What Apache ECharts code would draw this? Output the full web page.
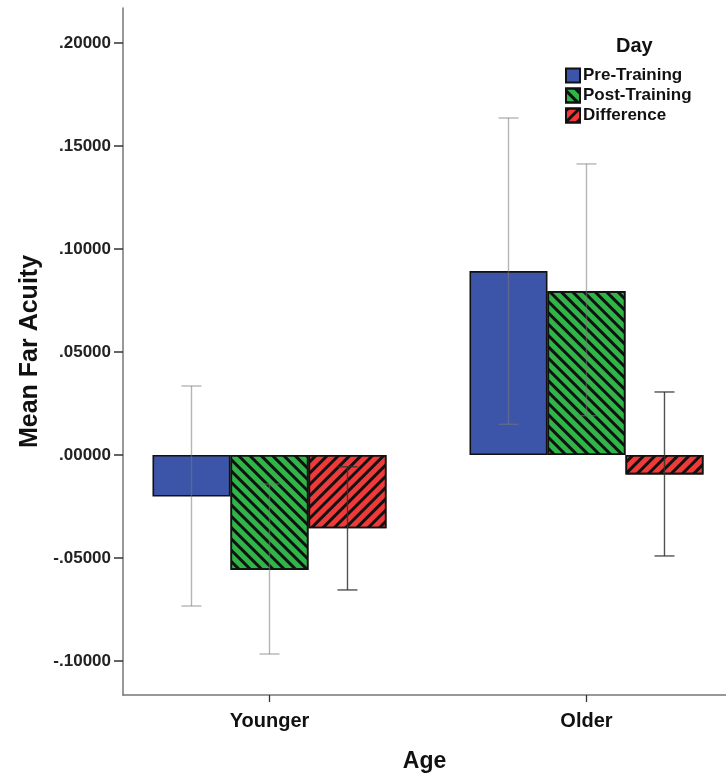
<!DOCTYPE html>
<html>
<head>
<meta charset="utf-8">
<script src="https://cdn.jsdelivr.net/npm/echarts@6/dist/echarts.min.js"></script>
<style>
html,body{margin:0;padding:0;background:#fff;}
#chart{width:726px;height:781px;}
</style>
</head>
<body>
<div id="chart"></div>
<script>
const categories = ['Younger', 'Older'];
const seriesNames = ['Pre-Training', 'Post-Training', 'Difference'];
const preTraining = [-0.0202, 0.0893];
const postTraining = [-0.0558, 0.0796];
const difference = [-0.0356, -0.0094];
const preErrLow = [-0.0733, 0.0149];
const preErrHigh = [0.0335, 0.1636];
const postErrLow = [-0.0966, 0.0191];
const postErrHigh = [-0.0141, 0.1413];
const diffErrLow = [-0.0655, -0.0490];
const diffErrHigh = [-0.0057, 0.0306];
const yTickValues = [-0.1, -0.05, 0, 0.05, 0.1, 0.15, 0.2];
const yTickLabels = ['-.10000', '-.05000', '.00000', '.05000', '.10000', '.15000', '.20000'];

const FONT = "'Liberation Sans', Arial, sans-serif";
const Y_MIN = -0.1165, Y_MAX = 0.217;
const X_MIN = -0.4621, X_MAX = 1.4401;
const BAR_W = 78;
const catIdx = categories.map((c, i) => i);

function tickLabel(v) {
  let best = 0, bd = Infinity;
  yTickValues.forEach((t, i) => { const d = Math.abs(t - v); if (d < bd) { bd = d; best = i; } });
  return yTickLabels[best];
}
function catLabel(v) {
  const i = Math.round(v);
  return categories[i] !== undefined ? categories[i] : '';
}
function pairs(vals) { return vals.map((v, i) => [catIdx[i], v]); }

function errSeries(name, lows, highs, idx, color) {
  return {
    type: 'custom', name: name + ' err', z: 5,
    data: catIdx.map(i => [i, lows[i], highs[i]]),
    renderItem: function (params, api) {
      const ci = api.value(0);
      const p1 = api.coord([ci, api.value(1)]);
      const p2 = api.coord([ci, api.value(2)]);
      const x = p1[0] + (idx - 1) * BAR_W;
      const cap = 10;
      const style = { stroke: color, lineWidth: 1.4, fill: null };
      return {
        type: 'group', children: [
          { type: 'line', shape: { x1: x, y1: p1[1], x2: x, y2: p2[1] }, style: style },
          { type: 'line', shape: { x1: x - cap, y1: p1[1], x2: x + cap, y2: p1[1] }, style: style },
          { type: 'line', shape: { x1: x - cap, y1: p2[1], x2: x + cap, y2: p2[1] }, style: style }
        ]
      };
    }
  };
}

const chart = echarts.init(document.getElementById('chart'), null, { renderer: 'canvas' });
const barBorder = { borderColor: '#111', borderWidth: 1.6 };
chart.setOption({
  animation: false,
  backgroundColor: '#fff',
  title: {
    text: 'Day', left: 611, top: 31,
    textStyle: { fontFamily: FONT, fontSize: 20, fontWeight: 'bold', color: '#111' }
  },
  legend: {
    data: seriesNames, orient: 'vertical', left: 565, top: 67, padding: 0,
    icon: 'rect', itemWidth: 14, itemHeight: 14, itemGap: 3,
    textStyle: { fontFamily: FONT, fontSize: 17, fontWeight: 'bold', color: '#111', padding: [0, 0, 0, -2] }
  },
  grid: { left: 123, right: 0, top: 8, bottom: 86 },
  xAxis: {
    type: 'value', min: X_MIN, max: X_MAX,
    axisLine: { show: true, onZero: false, lineStyle: { color: '#777', width: 1.5 } },
    axisTick: { show: true, customValues: catIdx, length: 7, lineStyle: { color: '#333', width: 1.3 } },
    axisLabel: { customValues: catIdx, formatter: catLabel, fontFamily: FONT, fontSize: 20, fontWeight: 'bold', color: '#111', margin: 16 },
    splitLine: { show: false },
    name: 'Age', nameLocation: 'middle', nameGap: 55,
    nameTextStyle: { fontFamily: FONT, fontSize: 23, fontWeight: 'bold', color: '#111' }
  },
  yAxis: {
    type: 'value', min: Y_MIN, max: Y_MAX,
    axisLine: { show: true, onZero: false, lineStyle: { color: '#777', width: 1.5 } },
    axisTick: { show: true, customValues: yTickValues, length: 9, lineStyle: { color: '#333', width: 1.5 } },
    axisLabel: { customValues: yTickValues, formatter: tickLabel, fontFamily: FONT, fontSize: 17, fontWeight: 'bold', color: '#222', margin: 12 },
    splitLine: { show: false },
    name: 'Mean Far Acuity', nameLocation: 'middle', nameRotate: 90, nameGap: 80,
    nameTextStyle: { fontFamily: FONT, fontSize: 25, fontWeight: 'bold', color: '#111' }
  },
  series: [
    {
      name: seriesNames[0], type: 'bar', data: pairs(preTraining),
      barWidth: BAR_W, barGap: '0%',
      itemStyle: Object.assign({ color: '#3d55a8' }, barBorder)
    },
    {
      name: seriesNames[1], type: 'bar', data: pairs(postTraining),
      barWidth: BAR_W, barGap: '0%',
      itemStyle: Object.assign({ color: '#2fb548', decal: { symbol: 'rect', symbolSize: 1, color: '#111', dashArrayX: [1, 0], dashArrayY: [2.6, 4.6], rotation: Math.PI / 4 } }, barBorder)
    },
    {
      name: seriesNames[2], type: 'bar', data: pairs(difference),
      barWidth: BAR_W, barGap: '0%',
      itemStyle: Object.assign({ color: '#f03a3a', decal: { symbol: 'rect', symbolSize: 1, color: '#111', dashArrayX: [1, 0], dashArrayY: [2.6, 4.6], rotation: -Math.PI / 4 } }, barBorder)
    },
    errSeries(seriesNames[0], preErrLow, preErrHigh, 0, 'rgba(120,120,120,0.55)'),
    errSeries(seriesNames[1], postErrLow, postErrHigh, 1, 'rgba(120,120,120,0.55)'),
    errSeries(seriesNames[2], diffErrLow, diffErrHigh, 2, 'rgba(50,50,50,0.85)')
  ]
});
</script>
</body>
</html>
